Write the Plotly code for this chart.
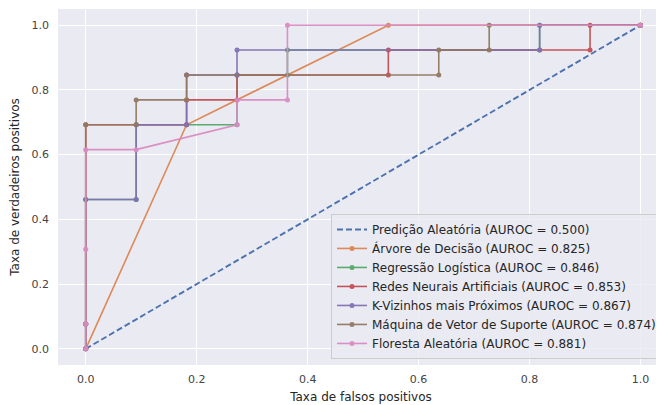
import plotly.graph_objects as go

# ROC data (false positive rate, true positive rate)
random_fpr = [0.0, 1.0]
random_tpr = [0.0, 1.0]

dt_fpr = [0.0, 0.1818, 0.5455, 1.0]
dt_tpr = [0.0, 0.6923, 1.0, 1.0]

lr_fpr = [0.0, 0.0, 0.0, 0.0909, 0.0909, 0.2727, 0.2727, 0.3636, 0.3636, 0.8182, 0.8182, 1.0]
lr_tpr = [0.0, 0.0769, 0.4615, 0.4615, 0.6923, 0.6923, 0.8462, 0.8462, 0.9231, 0.9231, 1.0, 1.0]

ann_fpr = [0.0, 0.0, 0.0, 0.1818, 0.1818, 0.2727, 0.2727, 0.5455, 0.5455, 0.9091, 0.9091, 1.0]
ann_tpr = [0.0, 0.0769, 0.6923, 0.6923, 0.7692, 0.7692, 0.8462, 0.8462, 0.9231, 0.9231, 1.0, 1.0]

knn_fpr = [0.0, 0.0, 0.0, 0.0909, 0.0909, 0.1818, 0.1818, 0.2727, 0.2727, 0.8182, 0.8182, 1.0]
knn_tpr = [0.0, 0.0769, 0.4615, 0.4615, 0.6923, 0.6923, 0.8462, 0.8462, 0.9231, 0.9231, 1.0, 1.0]

svm_fpr = [0.0, 0.0, 0.0, 0.0909, 0.0909, 0.1818, 0.1818, 0.6364, 0.6364, 0.7273, 0.7273, 1.0]
svm_tpr = [0.0, 0.0769, 0.6923, 0.6923, 0.7692, 0.7692, 0.8462, 0.8462, 0.9231, 0.9231, 1.0, 1.0]

rf_fpr = [0.0, 0.0, 0.0, 0.0, 0.0909, 0.2727, 0.2727, 0.3636, 0.3636, 1.0]
rf_tpr = [0.0, 0.0769, 0.3077, 0.6154, 0.6154, 0.6923, 0.7692, 0.7692, 1.0, 1.0]

names = [
    "Árvore de Decisão (AUROC = 0.825)",
    "Regressão Logística (AUROC = 0.846)",
    "Redes Neurais Artificiais (AUROC = 0.853)",
    "K-Vizinhos mais Próximos (AUROC = 0.867)",
    "Máquina de Vetor de Suporte (AUROC = 0.874)",
    "Floresta Aleatória (AUROC = 0.881)",
]
random_name = "Predição Aleatória (AUROC = 0.500)"

tick_vals = [0.0, 0.2, 0.4, 0.6, 0.8, 1.0]
tick_text = ["0.0", "0.2", "0.4", "0.6", "0.8", "1.0"]

colors = ["#DD8452", "#55A868", "#C44E52", "#8172B3", "#937860", "#DA8BC3"]
series = [(dt_fpr, dt_tpr), (lr_fpr, lr_tpr), (ann_fpr, ann_tpr),
          (knn_fpr, knn_tpr), (svm_fpr, svm_tpr), (rf_fpr, rf_tpr)]

fig = go.Figure()
fig.add_trace(go.Scatter(x=random_fpr, y=random_tpr, mode="lines", name=random_name,
                         line=dict(color="#4C72B0", width=1.9, dash="6px,3px")))
for (fx, fy), c, n in zip(series, colors, names):
    fig.add_trace(go.Scatter(x=fx, y=fy, mode="lines+markers", name=n,
                             line=dict(color=c, width=1.6),
                             marker=dict(color=c, size=5), opacity=0.95))

font = "DejaVu Sans"
# page body has an 8px default margin: figure occupies page x 8..664, y 8..405
fig.update_layout(
    width=656, height=397,
    margin=dict(l=50, r=0, t=1, b=40, autoexpand=False),
    paper_bgcolor="white", plot_bgcolor="#EAEAF2",
    font=dict(family=font, color="#262626", size=11),
    showlegend=True,
    legend=dict(x=0.9967, xanchor="right", y=0.017, yanchor="bottom",
                bgcolor="rgba(234,234,242,0.8)", bordercolor="#CCCCCC", borderwidth=1,
                font=dict(family=font, size=12, color="#262626"),
                itemwidth=30, tracegroupgap=0),
    xaxis=dict(range=[-0.05, 1.0424], tickvals=tick_vals, ticktext=tick_text,
               automargin=False, ticklabelstandoff=6,
               showgrid=True, gridcolor="white", gridwidth=1, zeroline=False,
               showline=False, ticks="", tickfont=dict(size=11, color="#444"),
               title=dict(text="Taxa de falsos positivos", font=dict(size=12, color="#262626"), standoff=7)),
    yaxis=dict(range=[-0.05, 1.05], tickvals=tick_vals, ticktext=tick_text,
               automargin=False, ticklabelstandoff=8,
               showgrid=True, gridcolor="white", gridwidth=1, zeroline=False,
               showline=False, ticks="", tickfont=dict(size=11, color="#444"),
               title=dict(text="Taxa de verdadeiros positivos", font=dict(size=12, color="#262626"), standoff=9)),
)

fig.write_html("out.html")
